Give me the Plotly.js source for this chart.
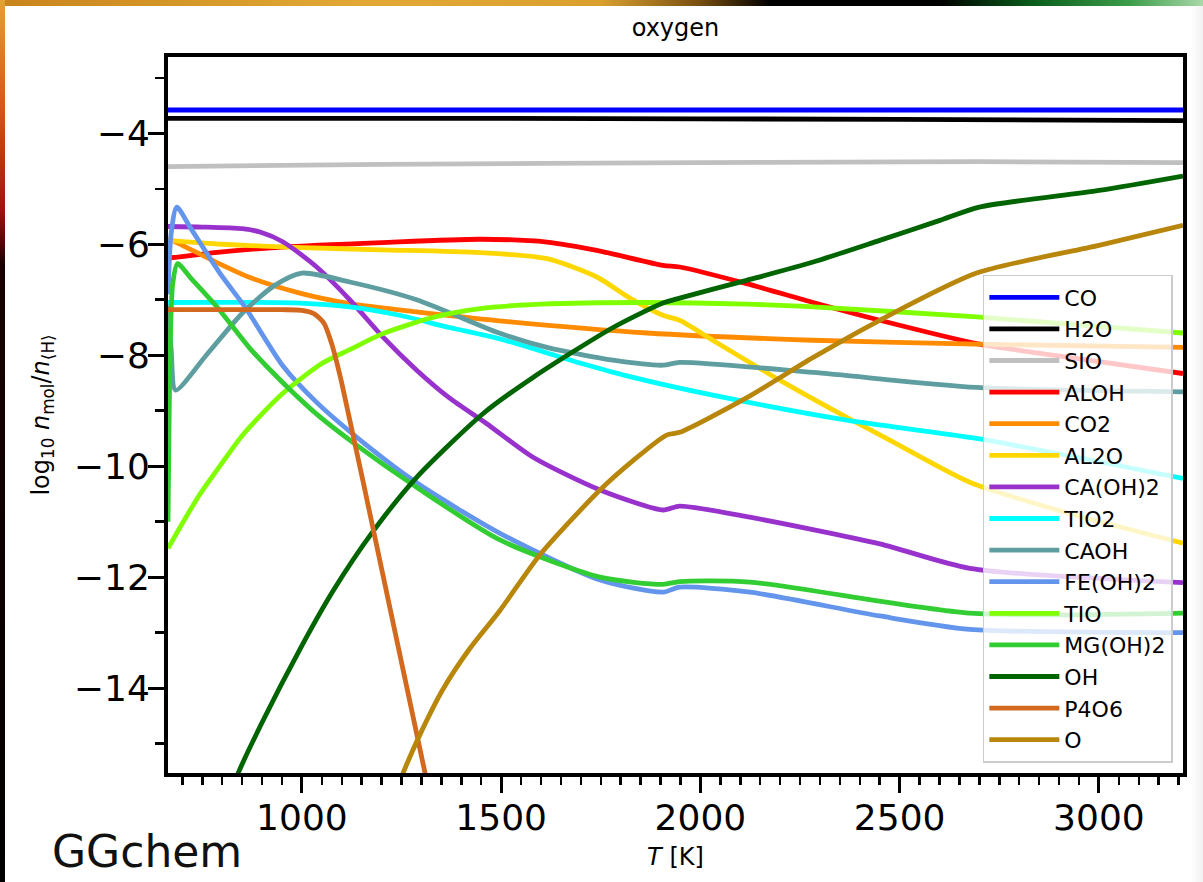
<!DOCTYPE html>
<html>
<head>
<meta charset="utf-8">
<script src="https://cdn.plot.ly/plotly-3.0.1.min.js"></script>
<style>
  html, body { margin: 0; padding: 0; background: #ffffff; }
  #wrap { position: relative; width: 1203px; height: 882px; overflow: hidden; background: #ffffff; }
  #chart { position: absolute; left: 0; top: 0; width: 1203px; height: 882px; }
  #topbar { position: absolute; left: 0; top: 0; width: 1203px; height: 6px; z-index: 5;
    background: linear-gradient(to right, #c8841c 0%, #e2a935 30%, #d9a030 50%, #7a5010 58%, #000000 64%, #000000 78%, #0a5e1c 86%, #3d9e4a 94%, #a8d8a8 100%); }
  #leftbar { position: absolute; left: 0; top: 0; width: 5px; height: 882px; z-index: 5;
    background: linear-gradient(to bottom, #e3a233 0%, #d8561a 12%, #a01010 24%, #1a0000 30%, #000000 100%); }
  #rightbar { position: absolute; right: 0; top: 6px; width: 12px; height: 876px; z-index: 4;
    background: linear-gradient(to right, #ffffff 0%, #f1f1f1 100%); }
</style>
</head>
<body>
<div id="wrap">
  <div id="chart"></div>
  <div id="topbar"></div>
  <div id="leftbar"></div>
  <div id="rightbar"></div>
</div>
<script>
// ---- data ----
const names = ["CO","H2O","SIO","ALOH","CO2","AL2O","CA(OH)2","TIO2","CAOH","FE(OH)2","TIO","MG(OH)2","OH","P4O6","O"];
const colors = ["blue","black","silver","red","darkorange","gold","darkorchid","aqua","cadetblue","cornflowerblue","chartreuse","limegreen","darkgreen","chocolate","darkgoldenrod"];

const T_CO = [664, 1500, 2500, 3211];
const v_CO = [-3.58, -3.58, -3.58, -3.58];

const T_H2O = [664, 1500, 2500, 3211];
const v_H2O = [-3.73, -3.73, -3.75, -3.77];

const T_SIO = [664, 1200, 2000, 2700, 3211];
const v_SIO = [-4.6, -4.56, -4.53, -4.51, -4.53];

const T_ALOH = [664, 794, 950, 1200, 1447, 1615, 1740, 1906, 1948, 2116, 2283, 2450, 2693, 2885, 3211];
const v_ALOH = [-6.25, -6.14, -6.05, -5.97, -5.91, -5.96, -6.11, -6.38, -6.41, -6.71, -7.05, -7.37, -7.79, -8.0, -8.33];

const T_CO2 = [664, 700, 787, 870, 995, 1120, 1288, 1495, 1866, 2283, 2693, 3211];
const v_CO2 = [-5.9, -6.02, -6.33, -6.6, -6.88, -7.07, -7.22, -7.38, -7.6, -7.73, -7.8, -7.86];

const T_AL2O = [664, 800, 1000, 1200, 1447, 1615, 1740, 1823, 1906, 1948, 2031, 2199, 2367, 2475, 2676, 2900, 3211];
const v_AL2O = [-5.93, -6.0, -6.06, -6.1, -6.15, -6.26, -6.59, -6.97, -7.28, -7.37, -7.73, -8.45, -9.12, -9.53, -10.29, -10.8, -11.39];

const T_CAOH2 = [664, 750, 850, 895, 953, 1037, 1120, 1203, 1288, 1370, 1463, 1580, 1748, 1906, 1948, 2124, 2450, 2676, 3211];
const v_CAOH2 = [-5.68, -5.69, -5.72, -5.78, -5.96, -6.41, -7.0, -7.67, -8.27, -8.77, -9.23, -9.84, -10.43, -10.79, -10.72, -10.92, -11.4, -11.84, -12.1];

const T_TIO2 = [664, 995, 1120, 1245, 1370, 1495, 1698, 1831, 2031, 2367, 2693, 3211];
const v_TIO2 = [-7.05, -7.06, -7.13, -7.28, -7.5, -7.7, -8.14, -8.4, -8.72, -9.17, -9.5, -10.22];

const T_CAOH = [664, 672, 683, 760, 852, 930, 1000, 1120, 1288, 1495, 1615, 1781, 1906, 1948, 2283, 2693, 3211];
const v_CAOH = [-7.1, -7.9, -8.63, -8.0, -7.23, -6.75, -6.52, -6.68, -7.0, -7.6, -7.86, -8.09, -8.18, -8.13, -8.31, -8.58, -8.66];

const T_FEOH2 = [664, 672, 686, 720, 794, 858, 953, 1037, 1162, 1288, 1497, 1748, 1906, 1948, 2124, 2450, 2676, 3211];
const v_FEOH2 = [-6.9, -5.8, -5.33, -5.7, -6.52, -7.14, -8.2, -8.85, -9.62, -10.3, -11.21, -12.05, -12.27, -12.18, -12.27, -12.7, -12.94, -13.0];

const T_TIO = [664, 740, 794, 850, 950, 1050, 1120, 1200, 1328, 1447, 1600, 1866, 2116, 2283, 2693, 3211];
const v_TIO = [-11.48, -10.55, -10.0, -9.45, -8.7, -8.15, -7.9, -7.62, -7.32, -7.16, -7.08, -7.05, -7.08, -7.13, -7.31, -7.6];

const T_MGOH2 = [664, 667, 671, 676, 688, 720, 787, 870, 953, 1040, 1137, 1288, 1497, 1748, 1906, 1948, 2124, 2676, 3211];
const v_MGOH2 = [-11.0, -9.0, -7.4, -6.7, -6.35, -6.6, -7.13, -7.88, -8.5, -9.08, -9.62, -10.38, -11.33, -12.0, -12.13, -12.08, -12.09, -12.65, -12.65];

const T_OH = [825, 838, 900, 995, 1078, 1178, 1288, 1455, 1580, 1781, 1906, 1948, 2116, 2283, 2450, 2601, 2700, 3000, 3211];
const v_OH = [-15.85, -15.57, -14.62, -13.3, -12.25, -11.18, -10.2, -9.05, -8.4, -7.5, -7.06, -6.97, -6.65, -6.32, -5.93, -5.57, -5.33, -5.03, -4.77];

const T_P4O6 = [664, 950, 1000, 1030, 1055, 1075, 1100, 1200, 1309, 1320];
const v_P4O6 = [-7.18, -7.18, -7.19, -7.25, -7.42, -7.8, -8.5, -11.85, -15.53, -15.9];

const T_O = [1240, 1254, 1300, 1354, 1420, 1497, 1597, 1748, 1831, 1915, 1948, 2120, 2283, 2450, 2693, 3000, 3211];
const v_O = [-15.8, -15.53, -14.78, -14.02, -13.3, -12.6, -11.6, -10.43, -9.9, -9.44, -9.39, -8.75, -8.04, -7.37, -6.52, -6.02, -5.66];

const xs = [T_CO, T_H2O, T_SIO, T_ALOH, T_CO2, T_AL2O, T_CAOH2, T_TIO2, T_CAOH, T_FEOH2, T_TIO, T_MGOH2, T_OH, T_P4O6, T_O];
const ys = [v_CO, v_H2O, v_SIO, v_ALOH, v_CO2, v_AL2O, v_CAOH2, v_TIO2, v_CAOH, v_FEOH2, v_TIO, v_MGOH2, v_OH, v_P4O6, v_O];

const xTickVals = [1000, 1500, 2000, 2500, 3000];
const yTickVals = [-14, -12, -10, -8, -6, -4];

// ---- build traces ----
const traces = names.map((n, i) => ({
  type: 'scatter', mode: 'lines', name: n, legendgroup: 'g' + i,
  x: xs[i], y: ys[i],
  line: {color: colors[i], width: 4.8, shape: 'spline', smoothing: 0.7},
  hoverinfo: 'skip'
}));

const F = 'DejaVu Sans, sans-serif';
const layout = {
  width: 1203, height: 882,
  paper_bgcolor: 'rgba(255,255,255,1)', plot_bgcolor: '#ffffff',
  margin: {l: 168, r: 20, t: 57, b: 109, pad: 0},
  showlegend: true,
  title: {text: 'oxygen', font: {family: F, size: 24, color: '#000'}, x: 0.5, xref: 'paper', y: 1 - 28/882, yref: 'container', yanchor: 'middle'},
  xaxis: {
    range: [664, 3211], tickvals: xTickVals, ticks: 'outside', ticklen: 16, tickwidth: 3, tickcolor: '#000',
    showline: true, linecolor: '#000', linewidth: 4, mirror: true, showgrid: false, zeroline: false,
    tickfont: {family: F, size: 36, color: '#000'}, ticklabelstandoff: -6,
    minor: {dtick: 50, tick0: 0, ticks: 'outside', ticklen: 8, tickwidth: 2.5, tickcolor: '#000', showgrid: false},
    title: {text: '<i>T</i> [K]', font: {family: F, size: 24, color: '#000'}, standoff: 12}
  },
  yaxis: {
    range: [-15.53, -2.625], tickvals: yTickVals, ticks: 'outside', ticklen: 16, tickwidth: 3, tickcolor: '#000',
    showline: true, linecolor: '#000', linewidth: 4, mirror: true, showgrid: false, zeroline: false,
    tickfont: {family: F, size: 36, color: '#000'}, ticklabelstandoff: -9,
    minor: {dtick: 1, tick0: 0, ticks: 'outside', ticklen: 9, tickwidth: 2.5, tickcolor: '#000', showgrid: false},
    title: {text: 'log<sub>10</sub> <i>n</i><sub>mol</sub>/<i>n</i><sub>⟨H⟩</sub>', font: {family: F, size: 24, color: '#000'}, standoff: 18}
  },
  legend: {
    x: 0.990, xanchor: 'right', y: 0.014, yanchor: 'bottom',
    bgcolor: 'rgba(255,255,255,0.78)', bordercolor: '#cccccc', borderwidth: 1.5,
    font: {family: F, size: 22, color: '#000'}, itemwidth: 70, tracegroupgap: 0, traceorder: 'grouped'
  },
  annotations: [{
    text: 'GGchem', xref: 'paper', yref: 'paper', x: -0.116, y: -0.109, xanchor: 'left', yanchor: 'middle',
    showarrow: false, font: {family: 'DejaVu Sans, sans-serif', size: 44, color: '#111'}
  }]
};

Plotly.newPlot('chart', traces, layout, {displayModeBar: false, staticPlot: true});
</script>
</body>
</html>
